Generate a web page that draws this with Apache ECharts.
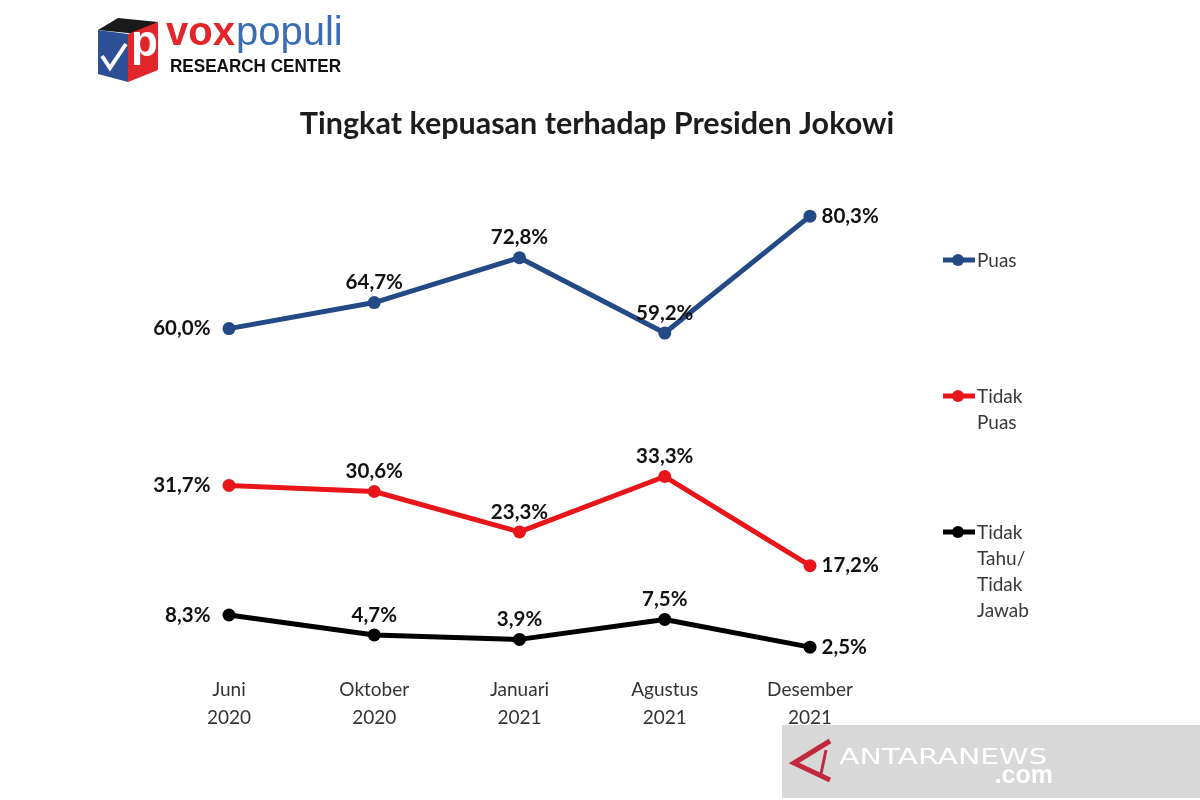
<!DOCTYPE html>
<html><head><meta charset="utf-8">
<script src="https://cdn.jsdelivr.net/npm/echarts@6/dist/echarts.min.js"></script>
<style>html,body{margin:0;padding:0;background:#fff}#c{width:1200px;height:800px}</style>
</head><body><div id="c"></div>
<script>
var categories = ['Juni\n2020', 'Oktober\n2020', 'Januari\n2021', 'Agustus\n2021', 'Desember\n2021'];
var seriesNames = ['Puas', 'Tidak Puas', 'Tidak Tahu/ Tidak Jawab'];
var puas = [60.0, 64.7, 72.8, 59.2, 80.3];
var tidakPuas = [31.7, 30.6, 23.3, 33.3, 17.2];
var tidakTahu = [8.3, 4.7, 3.9, 7.5, 2.5];
var colors = ['#244a86', '#e8161b', '#000000'];
var legendLabels = ['Puas', 'Tidak\nPuas', 'Tidak\nTahu/\nTidak\nJawab'];

var FONT = 'Lato, "Open Sans", sans-serif';
var chart = echarts.init(document.getElementById('c'));

function buildData(arr) {
  return arr.map(function (v, i) {
    var pos = i === 0 ? 'left' : (i === arr.length - 1 ? 'right' : 'top');
    var dist = i === 0 ? 12 : (i === arr.length - 1 ? 5 : 3);
    return { value: v, label: { position: pos, distance: dist } };
  });
}
function mkSeries(name, arr, color) {
  return {
    name: name, type: 'line', data: buildData(arr),
    symbol: 'circle', symbolSize: 13,
    lineStyle: { width: 5, color: color },
    itemStyle: { color: color },
    label: {
      show: true, color: '#111', fontWeight: 'bold', fontSize: 20.5, fontFamily: FONT,
      formatter: function (p) { return p.value.toFixed(1).replace('.', ',') + '%'; }
    },
    animation: false
  };
}

var legendGraphics = [];
var legendTops = [260, 396, 532];
legendLabels.forEach(function (t, i) {
  legendGraphics.push({ type: 'line', shape: { x1: 943, y1: legendTops[i], x2: 975, y2: legendTops[i] }, style: { stroke: colors[i], lineWidth: 5 } });
  legendGraphics.push({ type: 'circle', shape: { cx: 958, cy: legendTops[i], r: 6 }, style: { fill: colors[i] } });
  legendGraphics.push({ type: 'text', left: 977, top: legendTops[i] - 12, style: { text: t, fill: '#383838', font: '19px ' + FONT, lineHeight: 26 } });
});

var logo = [
  { type: 'polygon', shape: { points: [[98, 30], [118, 18], [158, 22], [138, 34]] }, style: { fill: '#1a1a1a' } },
  { type: 'polygon', shape: { points: [[98, 30], [128, 34], [128, 82], [98, 74]] }, style: { fill: '#2c4f95' } },
  { type: 'polygon', shape: { points: [[128, 34], [158, 22], [158, 70], [128, 82]] }, style: { fill: '#e2242b' } },
  { type: 'polyline', shape: { points: [[102, 56], [110, 68], [126, 44]] }, style: { stroke: '#fff', lineWidth: 4, fill: null } },
  { type: 'text', left: 131, top: 22, style: { text: 'p', fill: '#fff', font: 'bold 44px "Liberation Sans", Arial, sans-serif' } },
  { type: 'text', left: 166, top: 14, style: { text: 'vox', fill: '#e2242b', font: 'bold 40px "Liberation Sans", Arial, sans-serif' } },
  { type: 'text', left: 236, top: 14, style: { text: 'populi', fill: '#3a6db5', font: '40px "Liberation Sans", Arial, sans-serif' } },
  { type: 'text', left: 170, top: 57, style: { text: 'RESEARCH CENTER', fill: '#111', font: 'bold 19px "Liberation Sans", Arial, sans-serif' }, scaleX: 0.9 }
];

var watermark = [
  { type: 'rect', shape: { x: 782, y: 725, width: 418, height: 73 }, style: { fill: '#d8d8d8' } },
  { type: 'polyline', shape: { points: [[830, 741], [794, 763], [830, 780]] }, style: { stroke: '#c0283e', lineWidth: 5, fill: null } },
  { type: 'line', shape: { x1: 826, y1: 750, x2: 821, y2: 774 }, style: { stroke: '#c0283e', lineWidth: 3 } },
  { type: 'text', left: 839, top: 748, style: { text: 'ANTARANEWS', fill: '#fff', font: '21px "DejaVu Sans", sans-serif' }, scaleX: 1.42 },
  { type: 'text', right: 147, top: 764, style: { text: '.com', fill: '#fff', font: 'bold 25px "Liberation Sans", sans-serif' } }
];

chart.setOption({
  backgroundColor: '#fff',
  animation: false,
  title: {
    text: 'Tingkat kepuasan terhadap Presiden Jokowi', left: 592, top: 104, textAlign: 'center',
    textStyle: { fontFamily: FONT, fontWeight: 'bold', fontSize: 30.5, color: '#1c1c1c' }
  },
  grid: { left: 229, right: 390, top: 107, bottom: 139 },
  xAxis: {
    type: 'category', data: categories, boundaryGap: false,
    axisLine: { show: false }, axisTick: { show: false }, splitLine: { show: false },
    axisLabel: { margin: 15, color: '#333', fontSize: 19, fontFamily: FONT, lineHeight: 28, interval: 0 }
  },
  yAxis: { type: 'value', min: 0, max: 100, show: false, splitLine: { show: false } },
  series: [
    mkSeries(seriesNames[0], puas, colors[0]),
    mkSeries(seriesNames[1], tidakPuas, colors[1]),
    mkSeries(seriesNames[2], tidakTahu, colors[2])
  ],
  graphic: logo.concat(legendGraphics).concat(watermark)
});
</script></body></html>
